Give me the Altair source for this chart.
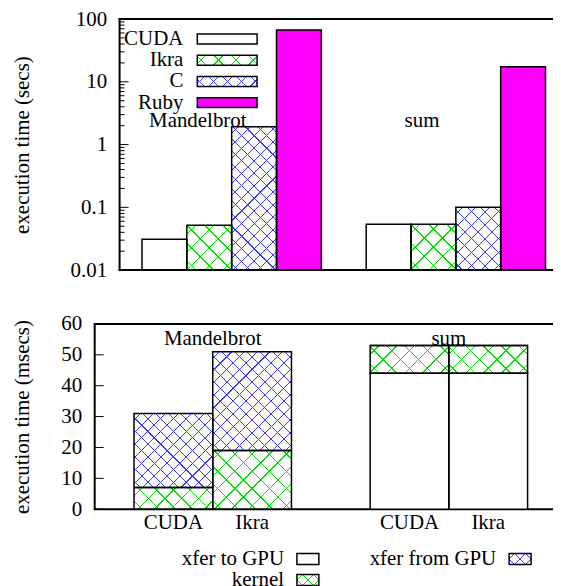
import math
import altair as alt
import pandas as pd

# ---------------- data ----------------
benchmarks = ["Mandelbrot", "sum"]
impls = ["CUDA", "Ikra", "C", "Ruby"]
mandel_secs = [0.031, 0.052, 1.93, 67.0]
sum_secs = [0.054, 0.054, 0.10, 17.3]

gpu_impls = ["CUDA", "Ikra"]
phases = ["xfer to GPU", "kernel", "xfer from GPU"]
mandel_to_gpu = [0, 0]
mandel_kernel = [7, 19]
mandel_from_gpu = [24, 32]
sum_to_gpu = [44, 44]
sum_kernel = [9, 9]
sum_from_gpu = [0, 0]

top_ticks_major = [0.01, 0.1, 1, 10, 100]
top_ticks_minor = [m * 10.0 ** e for e in range(-2, 2) for m in range(2, 10)]
bot_ticks = [0, 10, 20, 30, 40, 50, 60]

# ---------------- style ----------------
FONT = "Liberation Serif"
FS = 21
GREEN = "#00dd00"
BLUE = "#3a3aff"
MAGENTA = "#ff00ff"
SH = 25                      # top panel frame starts this far right of the shared origin
W1, H1 = 475, 252            # top panel plot (frame from SH to W1)
W2, H2 = 474, 186
PATTERN = {"Ikra": (GREEN, 12, 1.0), "C": (BLUE, 9, 0.75),
           "kernel": (GREEN, 12, 1.0), "xfer from GPU": (BLUE, 9, 0.75)}


def grad(w, h, color, spacing, lw, flip):
    r = w / h
    k = (1 + 1 / r) / (1 + 1 / r ** 2)
    diag = (w + h) / math.sqrt(2)
    n = max(1, round(diag / spacing))
    f = min(0.8, lw * n / diag)
    GS = alt.GradientStop
    stops = [GS(offset=0, color="transparent")]
    for i in range(n):
        c = (i + 0.5) / n
        hw = f / (2 * n)
        stops += [GS(offset=round(c - hw, 5), color="transparent"),
                  GS(offset=round(c - hw, 5), color=color),
                  GS(offset=round(c + hw, 5), color=color),
                  GS(offset=round(c + hw, 5), color="transparent")]
    stops.append(GS(offset=1, color="transparent"))
    if not flip:
        x1, y1, x2, y2 = 0, 0, k, k / r
    else:
        x1, y1, x2, y2 = 0, 1, k, 1 - k / r
    return alt.LinearGradient(gradient="linear", stops=stops,
                              x1=x1, y1=y1, x2=round(x2, 5), y2=round(y2, 5))


# ================= top panel =================
top_rows = []
for b, vals in zip(benchmarks, [mandel_secs, sum_secs]):
    for imp, v in zip(impls, vals):
        top_rows.append(dict(bench=b, impl=imp, secs=v))
top_df = pd.DataFrame(top_rows)

x1 = alt.X("bench:N", scale=alt.Scale(domain=benchmarks, range=[SH, W1],
                                      paddingInner=0.2, paddingOuter=0.1), axis=None)
xo1 = alt.XOffset("impl:N", scale=alt.Scale(domain=impls, paddingInner=0, paddingOuter=0))
ys1 = alt.Scale(type="log", domain=[0.01, 100], nice=False)
yax1 = alt.Axis(values=top_ticks_major, labelExpr="'' + datum.value", ticks=False, domain=False,
                grid=False, labelPadding=13, labelFont=FONT, labelFontSize=FS, labelColor="black",
                labelOverlap=False, offset=-SH,
                title="execution time (secs)", titleFont=FONT, titleFontSize=FS,
                titleFontWeight="normal", titleColor="black", titleX=-97, titleY=H1 / 2,
                titleAngle=270, titleBaseline="middle", titleAlign="center")
y1 = alt.Y("secs:Q", scale=ys1, axis=yax1)
fill_scale1 = alt.Scale(domain=impls, range=["white", "white", "white", MAGENTA])

step1 = (W1 - SH) / (len(benchmarks) - 0.2 + 0.2)
bw1 = step1 * 0.8 / len(impls)

L1 = []
L1.append(alt.Chart(pd.DataFrame({"bench": benchmarks}))
          .mark_text(font=FONT, fontSize=FS, dx=-34, baseline="middle", color="black")
          .encode(x=x1, y=alt.YDatum(2.4, scale=ys1, axis=yax1), text="bench:N"))
L1.append(alt.Chart(top_df).mark_bar(strokeWidth=0)
          .encode(x=x1, xOffset=xo1, y=y1, y2=alt.datum(0.01),
                  color=alt.Color("impl:N", scale=fill_scale1, legend=None)))
for row in top_rows:
    if row["impl"] in PATTERN:
        col, sp, lw = PATTERN[row["impl"]]
        h = H1 * (math.log10(row["secs"]) + 2) / 4
        for flip in (False, True):
            L1.append(alt.Chart(top_df)
                      .transform_filter(f"datum.bench == '{row['bench']}' && datum.impl == '{row['impl']}'")
                      .mark_bar(fill=grad(bw1, h, col, sp, lw, flip), strokeWidth=0)
                      .encode(x=x1, xOffset=xo1, y=y1, y2=alt.datum(0.01)))
L1.append(alt.Chart(top_df).mark_bar(fill="white", fillOpacity=0, stroke="black", strokeWidth=1.5)
          .encode(x=x1, xOffset=xo1, y=y1, y2=alt.datum(0.01)))
for vals, ln in ((top_ticks_major, 9), (top_ticks_minor, 5)):
    tdf = pd.DataFrame({"secs": vals})
    L1.append(alt.Chart(tdf).mark_rule(color="black", strokeWidth=1)
              .encode(y=y1, x=alt.value(SH), x2=alt.value(SH + ln)))
    L1.append(alt.Chart(tdf).mark_rule(color="black", strokeWidth=1)
              .encode(y=y1, x=alt.value(W1), x2=alt.value(W1 - ln)))

# frame of the top panel
frame = (alt.Chart(pd.DataFrame({"side": ["left", "top", "bottom", "right"]}))
         .transform_calculate(fx0=f"datum.side == 'right' ? {W1} : {SH}",
                              fx1=f"datum.side == 'left' ? {SH} : {W1}",
                              fy0=f"datum.side == 'bottom' ? {H1} : 0",
                              fy1=f"datum.side == 'top' ? 0 : {H1}"))
L1.append(frame.mark_rule(color="black", strokeWidth=2, strokeCap="square")
          .encode(x=alt.X("fx0:Q", scale=None, axis=None), x2="fx1:Q",
                  y=alt.Y("fy0:Q", scale=None, axis=None), y2="fy1:Q"))

# top legend (inside plot)
leg1 = (alt.Chart(pd.DataFrame({"impl": impls}))
        .transform_calculate(i=f"indexof({impls!r}, datum.impl)")
        .transform_calculate(ly="20 + 21.3 * datum.i", ly0="datum.ly - 5", ly1="datum.ly + 5"))
L1.append(leg1.mark_text(font=FONT, fontSize=FS, align="right", baseline="middle", color="black")
          .encode(x=alt.value(SH + 64), y=alt.Y("ly:Q", scale=None, axis=None), text="impl:N"))
sw_y = alt.Y("ly0:Q", scale=None, axis=None)
SWX0, SWX1 = SH + 78, SH + 138
L1.append(leg1.mark_rect(strokeWidth=0)
          .encode(x=alt.value(SWX0), x2=alt.value(SWX1), y=sw_y, y2="ly1:Q",
                  color=alt.Color("impl:N", scale=fill_scale1, legend=None)))
for imp in impls:
    if imp in PATTERN:
        col, sp, lw = PATTERN[imp]
        for flip in (False, True):
            L1.append(leg1.transform_filter(f"datum.impl == '{imp}'")
                      .mark_rect(fill=grad(60, 10, col, sp, lw, flip), strokeWidth=0)
                      .encode(x=alt.value(SWX0), x2=alt.value(SWX1), y=sw_y, y2="ly1:Q"))
L1.append(leg1.mark_rect(fill="white", fillOpacity=0, stroke="black", strokeWidth=1.5)
          .encode(x=alt.value(SWX0), x2=alt.value(SWX1), y=sw_y, y2="ly1:Q"))

top = alt.layer(*L1).properties(width=W1, height=H1,
                                view=alt.ViewBackground(stroke="transparent"))

# ================= bottom panel =================
bot_rows = []
for b, lists in zip(benchmarks, [[mandel_to_gpu, mandel_kernel, mandel_from_gpu],
                                 [sum_to_gpu, sum_kernel, sum_from_gpu]]):
    for j, imp in enumerate(gpu_impls):
        for p, lst in zip(phases, lists):
            bot_rows.append(dict(bench=b, impl=imp, phase=p, ms=lst[j]))
bot_df = pd.DataFrame(bot_rows)

x2e = alt.X("bench:N", scale=alt.Scale(domain=benchmarks, paddingInner=1 / 3, paddingOuter=1 / 6), axis=None)
xo2 = alt.XOffset("impl:N", scale=alt.Scale(domain=gpu_impls, paddingInner=0, paddingOuter=0))
ys2 = alt.Scale(domain=[0, 60], nice=False)
yax2 = alt.Axis(values=bot_ticks, ticks=False, domain=False, grid=False, labelPadding=13,
                labelFont=FONT, labelFontSize=FS, labelColor="black", labelOverlap=False,
                title="execution time (msecs)", titleFont=FONT, titleFontSize=FS,
                titleFontWeight="normal", titleColor="black", titleX=-72, titleY=H2 / 2,
                titleAngle=270, titleBaseline="middle", titleAlign="center")
y2e = alt.Y("y1:Q", scale=ys2, axis=yax2)

step2 = W2 / (len(benchmarks) - 1 / 3 + 2 / 6)
bw2 = step2 * (2 / 3) / len(gpu_impls)

stacked = (alt.Chart(bot_df)
           .transform_calculate(ord=f"indexof({phases!r}, datum.phase)")
           .transform_stack(stack="ms", as_=["y0", "y1"], groupby=["bench", "impl"],
                            sort=[alt.SortField("ord", order="ascending")]))

L2 = []
L2.append(alt.Chart(pd.DataFrame({"bench": benchmarks}))
          .mark_text(font=FONT, fontSize=FS, baseline="middle", color="black")
          .encode(x=x2e, y=alt.YDatum(55, scale=ys2, axis=yax2), text="bench:N"))
L2.append(stacked.mark_bar(fill="white", strokeWidth=0)
          .encode(x=x2e, xOffset=xo2, y=y2e, y2="y0:Q"))
for row in bot_rows:
    if row["phase"] in PATTERN and row["ms"] > 0:
        col, sp, lw = PATTERN[row["phase"]]
        h = H2 * row["ms"] / 60
        for flip in (False, True):
            L2.append(stacked.transform_filter(
                f"datum.bench == '{row['bench']}' && datum.impl == '{row['impl']}' && datum.phase == '{row['phase']}'")
                      .mark_bar(fill=grad(bw2, h, col, sp, lw, flip), strokeWidth=0)
                      .encode(x=x2e, xOffset=xo2, y=y2e, y2="y0:Q"))
L2.append(stacked.mark_bar(fill="white", fillOpacity=0, stroke="black", strokeWidth=1.5)
          .encode(x=x2e, xOffset=xo2, y=y2e, y2="y0:Q"))
tdf2 = pd.DataFrame({"y1": bot_ticks})
L2.append(alt.Chart(tdf2).mark_rule(color="black", strokeWidth=1)
          .encode(y=y2e, x=alt.value(0), x2=alt.value(9)))
L2.append(alt.Chart(tdf2).mark_rule(color="black", strokeWidth=1)
          .encode(y=y2e, x=alt.value(W2), x2=alt.value(W2 - 9)))
# category labels under the bars
lab_df = pd.DataFrame([dict(bench=b, impl=i) for b in benchmarks for i in gpu_impls])
L2.append(alt.Chart(lab_df).mark_text(font=FONT, fontSize=FS, baseline="middle", color="black")
          .encode(x=x2e, xOffset=xo2, y=alt.value(H2 + 14), text="impl:N"))

# bottom legend
leg2 = (alt.Chart(pd.DataFrame({"phase": phases}))
        .transform_calculate(i=f"indexof({phases!r}, datum.phase)")
        .transform_calculate(lx="datum.i == 2 ? 403 : 190",
                             ly=f"{H2} + (datum.i == 1 ? 71 : 50)")
        .transform_calculate(sx="datum.lx + 13", sx2="datum.lx + 35",
                             ly0="datum.ly - 5.5", ly1="datum.ly + 5.5"))
L2.append(leg2.mark_text(font=FONT, fontSize=FS, align="right", baseline="middle", color="black")
          .encode(x=alt.X("lx:Q", scale=None, axis=None), y=alt.Y("ly:Q", scale=None, axis=None),
                  text="phase:N"))
sx = alt.X("sx:Q", scale=None, axis=None)
sy = alt.Y("ly0:Q", scale=None, axis=None)
L2.append(leg2.mark_rect(fill="white", strokeWidth=0).encode(x=sx, x2="sx2:Q", y=sy, y2="ly1:Q"))
for p in phases:
    if p in PATTERN:
        col, sp, lw = PATTERN[p]
        for flip in (False, True):
            L2.append(leg2.transform_filter(f"datum.phase == '{p}'")
                      .mark_rect(fill=grad(22, 11, col, 7, lw, flip), strokeWidth=0)
                      .encode(x=sx, x2="sx2:Q", y=sy, y2="ly1:Q"))
L2.append(leg2.mark_rect(fill="white", fillOpacity=0, stroke="black", strokeWidth=1.5)
          .encode(x=sx, x2="sx2:Q", y=sy, y2="ly1:Q"))

bottom = alt.layer(*L2).properties(width=W2, height=H2)

chart = (alt.concat(top, bottom, columns=1, spacing=31)
         .resolve_scale(xOffset="independent", color="independent")
         .configure_view(stroke="black", strokeWidth=2)
         .properties(padding={"left": 3, "top": -2, "right": -18, "bottom": 0}, background="white"))

chart.save("out.html", embed_options={"renderer": "svg", "actions": False})
